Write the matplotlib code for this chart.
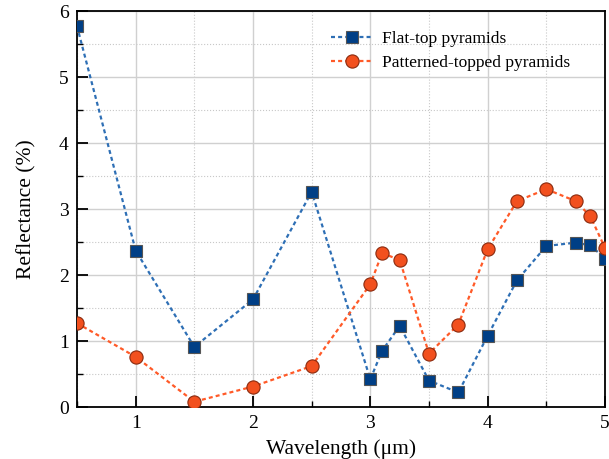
import matplotlib
matplotlib.use("Agg")
import matplotlib.pyplot as plt
from matplotlib.ticker import MultipleLocator

plt.rcParams['font.family'] = ['Liberation Serif', 'DejaVu Serif']
plt.rcParams['mathtext.fontset'] = 'stix'

flat_x = [0.5, 1.0, 1.5, 2.0, 2.5, 3.0, 3.1, 3.25, 3.5, 3.75, 4.0, 4.25, 4.5, 4.75, 4.875, 5.0]
flat_y = [5.77, 2.37, 0.91, 1.63, 3.26, 0.42, 0.85, 1.23, 0.40, 0.22, 1.08, 1.92, 2.44, 2.49, 2.45, 2.25]

pat_x = [0.5, 1.0, 1.5, 2.0, 2.5, 3.0, 3.1, 3.25, 3.5, 3.75, 4.0, 4.25, 4.5, 4.75, 4.875, 5.0]
pat_y = [1.27, 0.76, 0.08, 0.31, 0.62, 1.86, 2.33, 2.23, 0.81, 1.25, 2.39, 3.12, 3.30, 3.12, 2.89, 2.41]

labels = ['Flat-top pyramids', 'Patterned-topped pyramids']

fig = plt.figure(figsize=(6.09, 4.59), dpi=100)
ax = fig.add_axes([77/609, 1-407/459, (605-77)/609, (407-11)/459])

ax.plot(flat_x, flat_y, linestyle=(0, (1.8, 1.4)), color='#2e6fb5', lw=1.6,
        marker='s', markersize=9, markerfacecolor='#003f86',
        markeredgecolor='#555555', markeredgewidth=0.8, label=labels[0], zorder=3)
ax.plot(pat_x, pat_y, linestyle=(0, (1.8, 1.4)), color='#ff5a28', lw=1.6,
        marker='o', markersize=9.5, markerfacecolor='#f2501e',
        markeredgecolor='#8a2a0e', markeredgewidth=0.8, label=labels[1], zorder=3)

ax.set_xlim(0.5, 5)
ax.set_ylim(0, 6)
ax.xaxis.set_major_locator(MultipleLocator(1))
ax.xaxis.set_minor_locator(MultipleLocator(0.5))
ax.yaxis.set_major_locator(MultipleLocator(1))
ax.yaxis.set_minor_locator(MultipleLocator(0.5))
ax.grid(which='major', color='#d0d0d0', lw=1.0, ls='-')
ax.grid(which='minor', color='#c8c8c8', lw=0.8, ls=':')
ax.set_axisbelow(True)
ax.tick_params(which='major', direction='in', length=8, width=1.3, labelsize=14, pad=6)
ax.tick_params(which='minor', direction='in', length=4, width=1.0)
for s in ax.spines.values():
    s.set_linewidth(1.3)

ax.set_xlabel('Wavelength (μm)', fontsize=15.5, labelpad=5)
ax.set_ylabel('Reflectance (%)', fontsize=15.5, labelpad=16)

ax.legend(loc='upper right', bbox_to_anchor=(0.969, 0.995), frameon=False,
          fontsize=12.5, handlelength=2.4, borderpad=0.55, labelspacing=0.45,
          handletextpad=0.55)

fig.savefig('out.png', dpi=100)
